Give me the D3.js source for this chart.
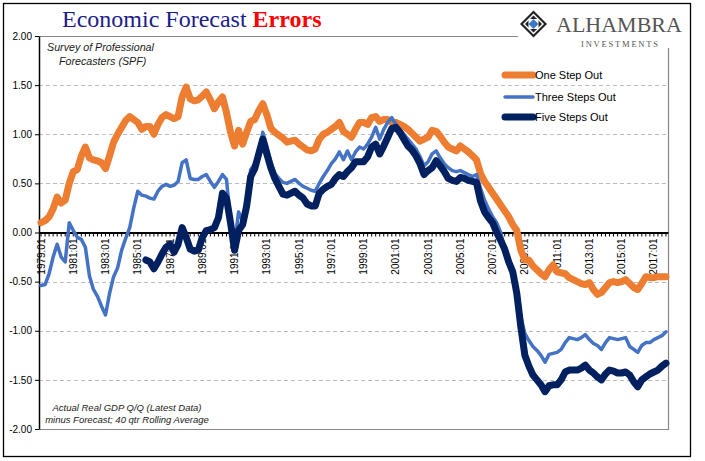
<!DOCTYPE html>
<html><head><meta charset="utf-8">
<script src="https://cdn.jsdelivr.net/npm/d3@7/dist/d3.min.js"></script>
<style>
body{margin:0;background:#fff;}
svg{display:block;}
</style></head>
<body>
<svg id="chart" width="705" height="461"></svg>
<script>
// ---- DATA ----
const startYear = 1979, endYear = 2017;
const categories = [];
for (let yr = startYear; yr <= endYear; yr++) for (let q = 1; q <= 4; q++) categories.push(yr + ":0" + q);

const oneStepOut = [
 0.10,0.12,0.16,0.24,0.36,0.30,0.33,0.50,0.62,0.64,0.78,0.87,0.76,0.74,0.73,0.71,
 0.65,0.78,0.92,1.00,1.07,1.14,1.18,1.15,1.12,1.05,1.08,1.08,1.00,1.10,1.17,1.20,
 1.18,1.16,1.18,1.38,1.48,1.36,1.34,1.35,1.39,1.43,1.35,1.26,1.33,1.38,1.22,1.02,
 0.88,1.04,0.90,1.02,1.13,1.15,1.24,1.31,1.20,1.06,1.02,0.99,0.96,0.92,0.93,0.94,
 0.90,0.87,0.84,0.83,0.85,0.95,1.00,1.02,1.05,1.08,1.12,1.03,1.00,0.97,1.05,1.12,
 1.12,1.10,1.17,1.18,1.13,1.15,1.15,1.12,1.12,1.10,1.08,1.05,1.01,0.97,0.93,0.95,
 0.97,1.04,1.03,0.98,0.92,0.87,0.85,0.83,0.88,0.85,0.82,0.78,0.74,0.60,0.52,0.46,
 0.40,0.34,0.28,0.22,0.16,0.08,0.02,-0.18,-0.28,-0.28,-0.34,-0.38,-0.42,-0.45,-0.38,-0.33,
 -0.40,-0.41,-0.42,-0.46,-0.48,-0.50,-0.52,-0.53,-0.51,-0.58,-0.63,-0.61,-0.56,-0.51,-0.50,-0.51,
 -0.50,-0.48,-0.52,-0.56,-0.58,-0.52,-0.45,-0.46,-0.46,-0.45,-0.45,-0.45
];
const threeStepsOut = [
 -0.54,-0.53,-0.42,-0.25,-0.12,-0.25,-0.30,0.10,0.02,-0.05,-0.07,-0.15,-0.44,-0.58,-0.65,-0.75,
 -0.84,-0.62,-0.45,-0.36,-0.18,-0.06,0.05,0.25,0.42,0.38,0.37,0.35,0.34,0.42,0.47,0.49,
 0.47,0.48,0.52,0.71,0.74,0.55,0.54,0.54,0.57,0.59,0.52,0.46,0.52,0.59,0.54,0.10,
 -0.12,0.21,0.12,0.35,0.64,0.70,0.80,1.02,0.88,0.72,0.60,0.55,0.51,0.50,0.52,0.54,
 0.50,0.47,0.45,0.43,0.42,0.50,0.57,0.63,0.70,0.75,0.82,0.74,0.83,0.74,0.82,0.87,
 0.85,0.90,0.97,1.07,0.95,1.05,1.12,1.17,1.10,1.05,1.00,0.95,0.90,0.85,0.77,0.68,
 0.72,0.80,0.83,0.76,0.70,0.66,0.63,0.62,0.63,0.61,0.59,0.57,0.59,0.45,0.33,0.24,
 0.16,0.10,0.00,-0.16,-0.30,-0.42,-0.55,-0.86,-1.03,-1.10,-1.16,-1.20,-1.25,-1.32,-1.24,-1.23,
 -1.22,-1.19,-1.12,-1.07,-1.08,-1.09,-1.07,-1.04,-1.09,-1.13,-1.15,-1.19,-1.12,-1.07,-1.08,-1.09,
 -1.08,-1.07,-1.16,-1.19,-1.22,-1.15,-1.12,-1.12,-1.09,-1.07,-1.05,-1.01
];
const fiveStepsOut = [
 null,null,null,null,null,null,null,null,null,null,null,null,null,null,null,null,
 null,null,null,null,null,null,null,null,null,null,-0.28,-0.30,-0.37,-0.30,-0.22,-0.15,
 -0.12,-0.20,-0.12,0.05,-0.05,-0.17,-0.19,-0.18,-0.05,0.02,0.03,0.05,0.15,0.40,0.35,0.10,
 -0.18,0.02,0.08,0.27,0.57,0.65,0.80,0.95,0.80,0.66,0.55,0.47,0.39,0.38,0.40,0.42,
 0.38,0.35,0.29,0.27,0.27,0.40,0.44,0.47,0.49,0.55,0.59,0.57,0.62,0.66,0.72,0.72,
 0.72,0.77,0.87,0.90,0.80,0.88,0.97,1.06,1.07,1.02,0.95,0.88,0.84,0.78,0.70,0.59,
 0.63,0.66,0.73,0.68,0.62,0.55,0.53,0.52,0.56,0.55,0.53,0.52,0.51,0.32,0.21,0.15,
 0.10,0.00,-0.08,-0.17,-0.30,-0.40,-0.62,-0.96,-1.25,-1.36,-1.45,-1.50,-1.55,-1.62,-1.56,-1.55,
 -1.55,-1.50,-1.42,-1.40,-1.40,-1.40,-1.38,-1.35,-1.40,-1.43,-1.47,-1.50,-1.44,-1.40,-1.41,-1.43,
 -1.43,-1.42,-1.45,-1.52,-1.57,-1.50,-1.47,-1.44,-1.42,-1.40,-1.36,-1.33
];
const seriesNames = ["One Step Out", "Three Steps Out", "Five Steps Out"];
const seriesColors = ["#ED7D31", "#4472C4", "#002060"];
const yTickValues = [2.0, 1.5, 1.0, 0.5, 0.0, -0.5, -1.0, -1.5, -2.0];
const titleMain = "Economic Forecast ";
const titleRed = "Errors";

// ---- DRAW ----
const svg = d3.select("#chart");
const W = 705, H = 461;
const plot = {left: 39, right: 668, top: 36, bottom: 429};

svg.append("rect").attr("width", W).attr("height", H).attr("fill", "#fff");
svg.append("rect").attr("x", 3.5).attr("y", 3.5).attr("width", 687).attr("height", 453)
  .attr("fill", "none").attr("stroke", "#000").attr("stroke-width", 1.3);

const x = d3.scaleBand().domain(categories).range([plot.left, plot.right]).paddingInner(0).paddingOuter(0);
const y = d3.scaleLinear().domain([-2, 2]).range([plot.bottom, plot.top]);
const cx = c => x(c) + x.bandwidth() / 2;

// gridlines
svg.append("g").selectAll("line").data(yTickValues.filter(v => Math.abs(v) !== 2 && v !== 0)).join("line")
  .attr("x1", plot.left).attr("x2", plot.right)
  .attr("y1", d => Math.round(y(d)) + 0.5).attr("y2", d => Math.round(y(d)) + 0.5)
  .attr("stroke", "#BDBDBD").attr("stroke-width", 1).attr("stroke-dasharray", "4,3");
// plot border (top, right, bottom)
svg.append("path")
  .attr("d", `M${plot.left},${plot.top + 0.5}H${plot.right + 0.5}V${plot.bottom + 0.5}H${plot.left}`)
  .attr("fill", "none").attr("stroke", "#878787").attr("stroke-width", 1.2);

// y axis
const yAxis = svg.append("g").attr("transform", `translate(${plot.left},0)`)
  .call(d3.axisLeft(y).tickValues(yTickValues).tickFormat(d => d.toFixed(2)).tickSize(4).tickSizeOuter(0).tickPadding(3));
yAxis.select(".domain").attr("stroke", "#000").attr("stroke-width", 1.5);
yAxis.selectAll(".tick line").attr("stroke", "#000");
yAxis.selectAll("text").attr("font-family", "Liberation Sans, Arial, sans-serif").attr("font-size", "10px").attr("fill", "#000");

// x axis at zero
const xAxis = svg.append("g").attr("transform", `translate(0,${y(0)})`)
  .call(d3.axisBottom(x).tickValues(categories).tickSize(4).tickSizeOuter(0)
    .tickFormat((d, i) => i % 8 === 0 ? d : ""));
xAxis.select(".domain").attr("stroke", "#000").attr("stroke-width", 1.8);
xAxis.selectAll(".tick line").attr("stroke", "#000").attr("stroke-width", 1);
xAxis.selectAll("text")
  .attr("font-family", "Liberation Sans, Arial, sans-serif").attr("font-size", "10px").attr("fill", "#000")
  .attr("transform", "rotate(-90)").attr("text-anchor", "end")
  .attr("x", -6).attr("y", 0).attr("dy", "0.35em");

// lines
const allSeries = [oneStepOut, threeStepsOut, fiveStepsOut];
const widths = [7, 3.5, 7];
const line = d3.line().defined(d => d != null).x((d, i) => cx(categories[i])).y(d => y(d));
allSeries.forEach((s, k) => {
  svg.append("path").datum(s).attr("d", line).attr("fill", "none")
    .attr("stroke", seriesColors[k]).attr("stroke-width", widths[k])
    .attr("stroke-linejoin", "round").attr("stroke-linecap", "round");
});

// legend
const legY = [75, 97, 117];
seriesNames.forEach((n, k) => {
  svg.append("line").attr("x1", 505).attr("x2", 533).attr("y1", legY[k]).attr("y2", legY[k])
    .attr("stroke", seriesColors[k]).attr("stroke-width", widths[k]).attr("stroke-linecap", "round");
  svg.append("text").attr("x", 535).attr("y", legY[k]).attr("dy", "0.35em")
    .attr("font-family", "Liberation Sans, Arial, sans-serif").attr("font-size", "11px").attr("fill", "#000").text(n);
});

// title
const t = svg.append("text").attr("x", 62).attr("y", 27)
  .attr("font-family", "Liberation Serif, 'Times New Roman', serif").attr("font-size", "24px");
t.append("tspan").attr("fill", "#1C1C8C").text(titleMain);
t.append("tspan").attr("fill", "#FF0000").attr("font-weight", "bold").text(titleRed);

// annotations
const ann = svg.append("g").attr("font-family", "Liberation Sans, Arial, sans-serif").attr("font-style", "italic").attr("fill", "#1a1a1a");
ann.append("text").attr("x", 47).attr("y", 51).attr("font-size", "10.7px").text("Survey of Professional");
ann.append("text").attr("x", 59).attr("y", 65).attr("font-size", "10.7px").text("Forecasters (SPF)");
ann.append("text").attr("x", 127).attr("y", 411).attr("text-anchor", "middle").attr("font-size", "9.5px").text("Actual Real GDP Q/Q (Latest Data)");
ann.append("text").attr("x", 127).attr("y", 423).attr("text-anchor", "middle").attr("font-size", "9.5px").text("minus Forecast; 40 qtr Rolling Average");

// logo
const logo = svg.append("g");
logo.append("rect").attr("x", 518).attr("y", 6).attr("width", 170).attr("height", 42).attr("fill", "#fff");
const dc = [533.5, 24], r = 13.5;
const dia = (cxp, cyp, rr) => `M${cxp},${cyp - rr}L${cxp + rr},${cyp}L${cxp},${cyp + rr}L${cxp - rr},${cyp}Z`;
logo.append("path").attr("d", dia(dc[0], dc[1], r)).attr("fill", "#222");
logo.append("path").attr("d", dia(dc[0], dc[1], r - 3)).attr("fill", "#fff");
logo.append("path").attr("d", dia(dc[0], dc[1], r - 5)).attr("fill", "#222");
logo.append("rect").attr("x", dc[0] - 5).attr("y", dc[1] - 5).attr("width", 10).attr("height", 10).attr("fill", "#fff");
logo.append("path").attr("d", dia(dc[0], dc[1], 5)).attr("fill", "#3A7CC8");
logo.append("text").attr("x", 556).attr("y", 32).attr("font-family", "Liberation Serif, serif").attr("font-size", "22px")
  .attr("fill", "#555").text("ALHAMBRA");
logo.append("text").attr("x", 581).attr("y", 46.5).attr("font-family", "Liberation Serif, serif").attr("font-size", "8.5px")
  .attr("letter-spacing", "1.8px").attr("fill", "#555").text("INVESTMENTS");
</script>
</body></html>
